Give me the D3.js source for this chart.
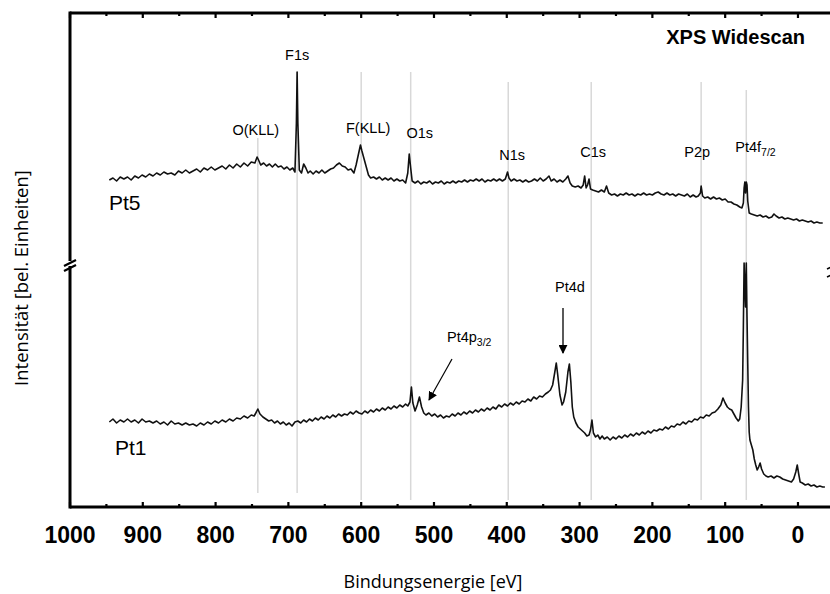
<!DOCTYPE html>
<head>
  <meta charset="utf-8">
  <title>XPS Widescan</title>
  <style>
    body { margin: 0; background: #fff; }
    text { font-family: "Liberation Sans", Arial, sans-serif; }
    .title-ax { font-family: "Open Sans", "Noto Sans", sans-serif; }
  </style>
</head>
<body>
<script src="https://d3js.org/d3.v7.min.js"></script>
<script>
// Binding energy ticks [eV]
var majorTicks = [1000, 900, 800, 700, 600, 500, 400, 300, 200, 100, 0];
var minorTicks = [950, 850, 750, 650, 550, 450, 350, 250, 150, 50];

// Peak reference lines: energy [eV] and label
var peakNames = ["O(KLL)", "F1s", "F(KLL)", "O1s", "N1s", "C1s", "P2p", "Pt4f"];
var peakEnergies = [742, 688, 600, 532, 398, 284, 133, 71];

// Pt5 spectrum (upper panel): [binding energy eV, intensity a.u.]
var pt5 = [
  [946,83],[941,85],[936,82],[931,86],[926,84],[921,86],[916,83],[911,87],[906,85],[901,88],
  [896,86],[891,89],[886,87],[881,90],[876,88],[871,91],[866,89],[861,90],[856,88],[851,92],
  [846,90],[841,93],[836,90],[831,92],[826,94],[821,91],[816,95],[811,93],[806,96],[801,93],
  [796,95],[791,97],[786,94],[781,98],[776,95],[771,99],[766,96],[761,100],[756,97],[751,101],
  [746,100],[743,106],[741,103],[738,98],[734,100],[730,97],[726,99],[722,96],[718,99],[714,96],
  [710,97],[706,94],[702,96],[698,93],[694,95],[691,91],[689,140],[688,191],[687,140],[685,93],
  [682,90],[679,99],[676,95],[673,90],[670,92],[666,89],[662,92],[658,90],[654,93],[650,90],
  [646,92],[642,94],[638,95],[634,98],[630,100],[626,97],[622,96],[618,93],[614,94],[610,90],
  [607,98],[604,108],[601,118],[599,112],[596,104],[593,96],[590,88],[587,85],[583,86],[579,84],
  [575,86],[571,83],[567,85],[563,83],[559,85],[555,82],[551,84],[547,82],[543,83],[539,80],
  [536,90],[534,109],[532,95],[530,82],[526,80],[522,82],[518,79],[514,81],[510,80],[506,82],
  [502,79],[498,81],[494,80],[490,82],[486,79],[482,81],[478,80],[474,82],[470,80],[466,82],
  [462,81],[458,83],[454,81],[450,83],[446,82],[442,84],[438,82],[434,84],[430,81],[426,83],
  [422,82],[418,84],[414,82],[410,84],[406,82],[402,84],[399,91],[397,85],[394,82],[390,84],
  [386,82],[382,83],[378,81],[374,83],[370,81],[366,82],[362,84],[358,82],[354,85],[350,82],
  [346,84],[342,87],[339,82],[335,84],[331,81],[327,83],[323,81],[319,84],[316,87],[313,80],
  [310,77],[306,76],[302,77],[298,75],[295,78],[293,87],[291,75],[289,78],[287,84],[285,74],
  [282,73],[278,72],[274,71],[270,73],[266,71],[263,77],[260,70],[256,68],[252,69],[248,67],
  [244,69],[240,68],[236,70],[232,68],[228,69],[224,67],[220,69],[216,68],[212,70],[208,68],
  [204,69],[200,68],[196,70],[192,71],[188,69],[184,68],[180,70],[176,68],[172,69],[168,67],
  [164,69],[160,68],[156,67],[152,69],[148,66],[144,68],[140,66],[137,67],[134,70],[133,77],
  [131,67],[128,65],[124,66],[120,64],[116,66],[112,64],[108,65],[104,63],[100,64],[96,61],
  [92,61],[88,59],[84,58],[80,56],[77,55],[75,60],[74,75],[73,81],[72,70],[71,81],
  [70,78],[69,62],[67,50],[64,49],[60,48],[56,47],[52,48],[48,46],[44,47],[40,45],
  [36,46],[33,49],[30,47],[26,45],[22,46],[18,44],[14,45],[10,44],[6,43],[2,44],
  [-2,42],[-6,43],[-10,42],[-14,41],[-18,42],[-22,40],[-26,41],[-30,40],[-34,40]
];

// Pt1 spectrum (lower panel): [binding energy eV, intensity a.u.]
var pt1 = [
  [946,85],[941,88],[936,84],[931,87],[926,85],[921,88],[916,85],[911,87],[906,84],[901,88],
  [896,85],[891,86],[886,84],[881,86],[876,83],[871,85],[866,82],[861,86],[856,83],[851,84],
  [846,82],[841,84],[836,82],[831,83],[826,81],[821,84],[816,82],[811,85],[806,83],[801,86],
  [796,84],[791,87],[786,85],[781,88],[776,86],[771,89],[766,88],[761,91],[756,89],[751,92],
  [747,91],[744,95],[742,98],[739,93],[735,90],[731,88],[727,86],[723,87],[719,84],[715,86],
  [711,83],[707,85],[703,82],[699,84],[695,81],[691,85],[687,86],[683,84],[679,87],[675,85],
  [671,88],[667,86],[663,89],[659,87],[655,90],[651,88],[647,91],[643,89],[639,92],[635,90],
  [631,93],[627,91],[623,93],[619,92],[615,95],[611,93],[607,96],[603,94],[599,93],[595,96],
  [591,94],[587,97],[583,95],[579,98],[575,96],[571,99],[567,97],[563,100],[559,98],[555,101],
  [551,99],[547,102],[543,100],[539,103],[536,101],[533,105],[531,120],[529,104],[526,96],[523,102],
  [520,110],[517,100],[514,94],[511,92],[507,94],[503,91],[499,93],[495,90],[491,92],[487,89],
  [483,91],[479,90],[475,93],[471,91],[467,94],[463,92],[459,95],[455,93],[451,96],[447,94],
  [443,97],[439,95],[435,98],[431,96],[427,99],[423,97],[419,100],[415,98],[411,102],[407,100],
  [403,103],[399,101],[395,104],[391,102],[387,105],[383,103],[379,106],[375,105],[371,108],[367,106],
  [363,110],[359,108],[355,111],[351,110],[347,113],[343,115],[340,117],[337,122],[334,135],[332,144],
  [330,132],[327,112],[324,102],[322,105],[319,115],[316,135],[314,143],[312,125],[310,100],[308,90],
  [305,84],[302,80],[299,78],[296,76],[293,74],[290,71],[287,72],[285,77],[283,87],[281,74],
  [278,70],[275,72],[272,68],[269,71],[266,68],[262,70],[258,67],[254,70],[250,68],[246,71],
  [242,69],[238,72],[234,70],[230,73],[226,71],[222,74],[218,72],[214,75],[210,73],[206,76],
  [202,74],[198,77],[194,76],[190,78],[186,77],[182,80],[178,78],[174,81],[170,80],[166,83],
  [162,82],[158,85],[154,83],[150,86],[146,85],[142,88],[138,87],[134,90],[130,89],[126,92],
  [122,91],[118,94],[114,95],[110,98],[106,102],[103,109],[100,104],[97,100],[94,98],[91,97],
  [88,93],[85,89],[82,86],[80,88],[78,100],[76,127],[75,180],[74,244],[72,200],[71,244],
  [70,190],[69,144],[68,100],[67,75],[66,67],[64,62],[62,57],[60,48],[58,42],[56,37],
  [54,40],[52,44],[50,38],[47,33],[44,31],[41,30],[37,31],[33,29],[29,31],[25,30],
  [21,28],[17,27],[13,26],[9,25],[6,28],[3,35],[1,42],[-1,33],[-3,25],[-6,24],
  [-10,22],[-14,23],[-18,21],[-22,22],[-26,20],[-30,21],[-34,20],[-37,20]
];

var W = 830, H = 594;
var mLeft = 70, mRight = 830, mTop = 13, mBottom = 507, breakY = 263;

var svg = d3.select("body").append("svg")
    .attr("width", W)
    .attr("height", H);

var x = d3.scaleLinear().domain([1000, -44]).range([mLeft, mRight]);
// broken y axis: one scale per panel
var yTop = d3.scaleLinear().domain([0, 250]).range([breakY, mTop]);
var yBot = d3.scaleLinear().domain([0, 244]).range([mBottom, breakY]);

// reference lines (top/bottom pixel extents per line)
var lineTops = [138, 72, 72, 72, 82, 82, 82, 90];
var lineBots = [493, 493, 500, 500, 500, 500, 500, 500];
svg.append("g").selectAll("line")
    .data(peakEnergies)
  .enter().append("line")
    .attr("x1", d => x(d)).attr("x2", d => x(d))
    .attr("y1", (d, i) => lineTops[i])
    .attr("y2", (d, i) => lineBots[i])
    .attr("stroke", "#d8d8d8")
    .attr("stroke-width", 1.5);

// spectra
var lineTop = d3.line().x(d => x(d[0])).y(d => yTop(d[1]));
var lineBot = d3.line().x(d => x(d[0])).y(d => yBot(d[1]));
svg.append("path").datum(pt5).attr("d", lineTop)
    .attr("fill", "none").attr("stroke", "#111").attr("stroke-width", 1.6)
    .attr("stroke-linejoin", "round");
svg.append("path").datum(pt1).attr("d", lineBot)
    .attr("fill", "none").attr("stroke", "#111").attr("stroke-width", 1.6)
    .attr("stroke-linejoin", "round");

// frame
var axisW = 3;
svg.append("line").attr("x1", mLeft).attr("x2", mRight).attr("y1", mTop).attr("y2", mTop)
    .attr("stroke", "#000").attr("stroke-width", axisW);
svg.append("line").attr("x1", mLeft).attr("x2", mRight).attr("y1", mBottom).attr("y2", mBottom)
    .attr("stroke", "#000").attr("stroke-width", axisW);
svg.append("line").attr("x1", mLeft).attr("x2", mLeft).attr("y1", mTop - 1.5).attr("y2", mBottom + 1.5)
    .attr("stroke", "#000").attr("stroke-width", axisW);

// ticks (inward on top and bottom)
var tickG = svg.append("g").attr("stroke", "#000").attr("stroke-width", 2.2);
majorTicks.forEach(function(t) {
  tickG.append("line").attr("x1", x(t)).attr("x2", x(t)).attr("y1", mTop).attr("y2", mTop + 5);
  tickG.append("line").attr("x1", x(t)).attr("x2", x(t)).attr("y1", mBottom).attr("y2", mBottom - 5);
});
minorTicks.forEach(function(t) {
  tickG.append("line").attr("x1", x(t)).attr("x2", x(t)).attr("y1", mTop).attr("y2", mTop + 3);
  tickG.append("line").attr("x1", x(t)).attr("x2", x(t)).attr("y1", mBottom).attr("y2", mBottom - 3);
});

// tick labels
svg.append("g").selectAll("text")
    .data(majorTicks)
  .enter().append("text")
    .attr("x", d => x(d))
    .attr("y", 543)
    .attr("text-anchor", "middle")
    .style("font-size", "23px")
    .style("font-weight", "bold")
    .text(d => d);

// axis break marks
svg.append("rect").attr("x", mLeft - 3).attr("y", breakY - 2).attr("width", 6).attr("height", 5).attr("fill", "#fff");
[0, 5].forEach(function(o) {
  svg.append("line")
      .attr("x1", mLeft - 6).attr("y1", breakY + 3 + o)
      .attr("x2", mLeft + 6).attr("y2", breakY - 3 + o)
      .attr("stroke", "#000").attr("stroke-width", 2.2);
});
[0, 8].forEach(function(o) {
  svg.append("line")
      .attr("x1", mRight - 3).attr("y1", breakY + 6 + o)
      .attr("x2", mRight + 6).attr("y2", breakY + 2 + o)
      .attr("stroke", "#000").attr("stroke-width", 1.6);
});

// axis titles
svg.append("text").attr("class", "title-ax")
    .attr("x", 433).attr("y", 588)
    .attr("text-anchor", "middle")
    .style("font-size", "18px")
    .text("Bindungsenergie [eV]");
svg.append("text").attr("class", "title-ax")
    .attr("transform", "translate(28,278) rotate(-90)")
    .attr("text-anchor", "middle")
    .style("font-size", "18.5px")
    .text("Intensität [bel. Einheiten]");

svg.append("text")
    .attr("x", 805).attr("y", 44)
    .attr("text-anchor", "end")
    .style("font-size", "20px")
    .style("font-weight", "bold")
    .text("XPS Widescan");

// peak labels: offset from the line and baseline
var labelDx = [-2, 0, 7, 9, 4, 2, -4, -11];
var labelY = [135, 60, 133, 138, 160, 157, 157, 152];
peakNames.forEach(function(name, i) {
  var t = svg.append("text")
      .attr("x", x(peakEnergies[i]) + labelDx[i])
      .attr("y", labelY[i])
      .attr("text-anchor", i === 7 ? "start" : "middle")
      .style("font-size", "14.5px")
      .text(name);
  if (i === 7) {
    t.append("tspan").attr("dy", 4).style("font-size", "10.5px").text("7/2");
  }
});

// sample labels
svg.append("text").attr("x", 109).attr("y", 210).style("font-size", "21px").text("Pt5");
svg.append("text").attr("x", 115).attr("y", 455).style("font-size", "21px").text("Pt1");

// Pt4p3/2 and Pt4d annotations with arrows
svg.append("defs").append("marker")
    .attr("id", "ah")
    .attr("viewBox", "0 0 10 10")
    .attr("refX", 9).attr("refY", 5)
    .attr("markerWidth", 9).attr("markerHeight", 9)
    .attr("markerUnits", "userSpaceOnUse")
    .attr("orient", "auto")
  .append("path").attr("d", "M0,0 L10,5 L0,10 z").attr("fill", "#000");

var p4 = svg.append("text").attr("x", 447).attr("y", 342).style("font-size", "14.5px").text("Pt4p");
p4.append("tspan").attr("dy", 4).style("font-size", "10.5px").text("3/2");
svg.append("line")
    .attr("x1", 452).attr("y1", 359).attr("x2", 429).attr("y2", 400)
    .attr("stroke", "#000").attr("stroke-width", 1.2).attr("marker-end", "url(#ah)");

svg.append("text").attr("x", 570).attr("y", 292).attr("text-anchor", "middle")
    .style("font-size", "14.5px").text("Pt4d");
svg.append("line")
    .attr("x1", 563).attr("y1", 308).attr("x2", 563).attr("y2", 353)
    .attr("stroke", "#000").attr("stroke-width", 1.3).attr("marker-end", "url(#ah)");
</script>
</body>
